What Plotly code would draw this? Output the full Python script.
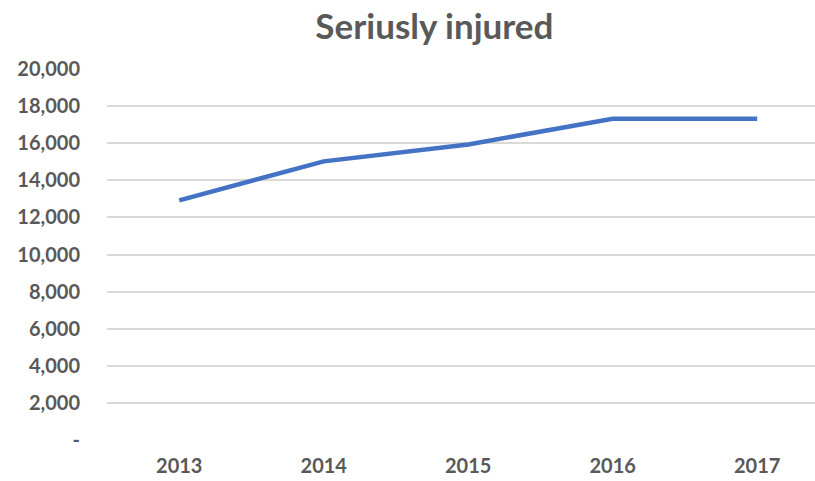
import plotly.graph_objects as go

years = ["2013", "2014", "2015", "2016", "2017"]
injured = [12920, 15020, 15930, 17320, 17320]

y_ticks = [0, 2000, 4000, 6000, 8000, 10000, 12000, 14000, 16000, 18000, 20000]
y_tick_labels = ["-"] + [f"{v:,}" for v in y_ticks[1:]]

TEXT = "#595959"
FONT = "Lato"

fig = go.Figure()
fig.add_trace(go.Scatter(
    x=years, y=injured, mode="lines",
    line=dict(color="#4472C4", width=4.5),
    hoverinfo="skip",
))

fig.update_layout(
    width=815, height=481,
    margin=dict(l=107, r=0, t=69, b=41),
    paper_bgcolor="white", plot_bgcolor="white",
    showlegend=False,
    font=dict(family=FONT, color=TEXT, size=20, weight="bold"),
    title=dict(text="Seriusly injured", x=0.533, xanchor="center", y=0.945, yanchor="middle",
               font=dict(family=FONT, size=35, color=TEXT, weight="bold")),
)
fig.update_xaxes(
    type="category", range=[-0.5, 4.40],
    showgrid=False, zeroline=False, showline=False,
    ticks="", ticklabelstandoff=12,
    tickfont=dict(size=20, weight="bold", color=TEXT),
)
fig.update_yaxes(
    range=[0, 20000], tickvals=y_ticks, ticktext=y_tick_labels,
    showgrid=True, gridcolor="#D9D9D9", gridwidth=1.5,
    zeroline=False, showline=False, ticks="", ticklabelstandoff=26,
    tickfont=dict(size=20, weight="bold", color=TEXT),
)

fig.write_html("out.html", config={"displayModeBar": False},
               post_script="document.body.style.margin='0px';")
